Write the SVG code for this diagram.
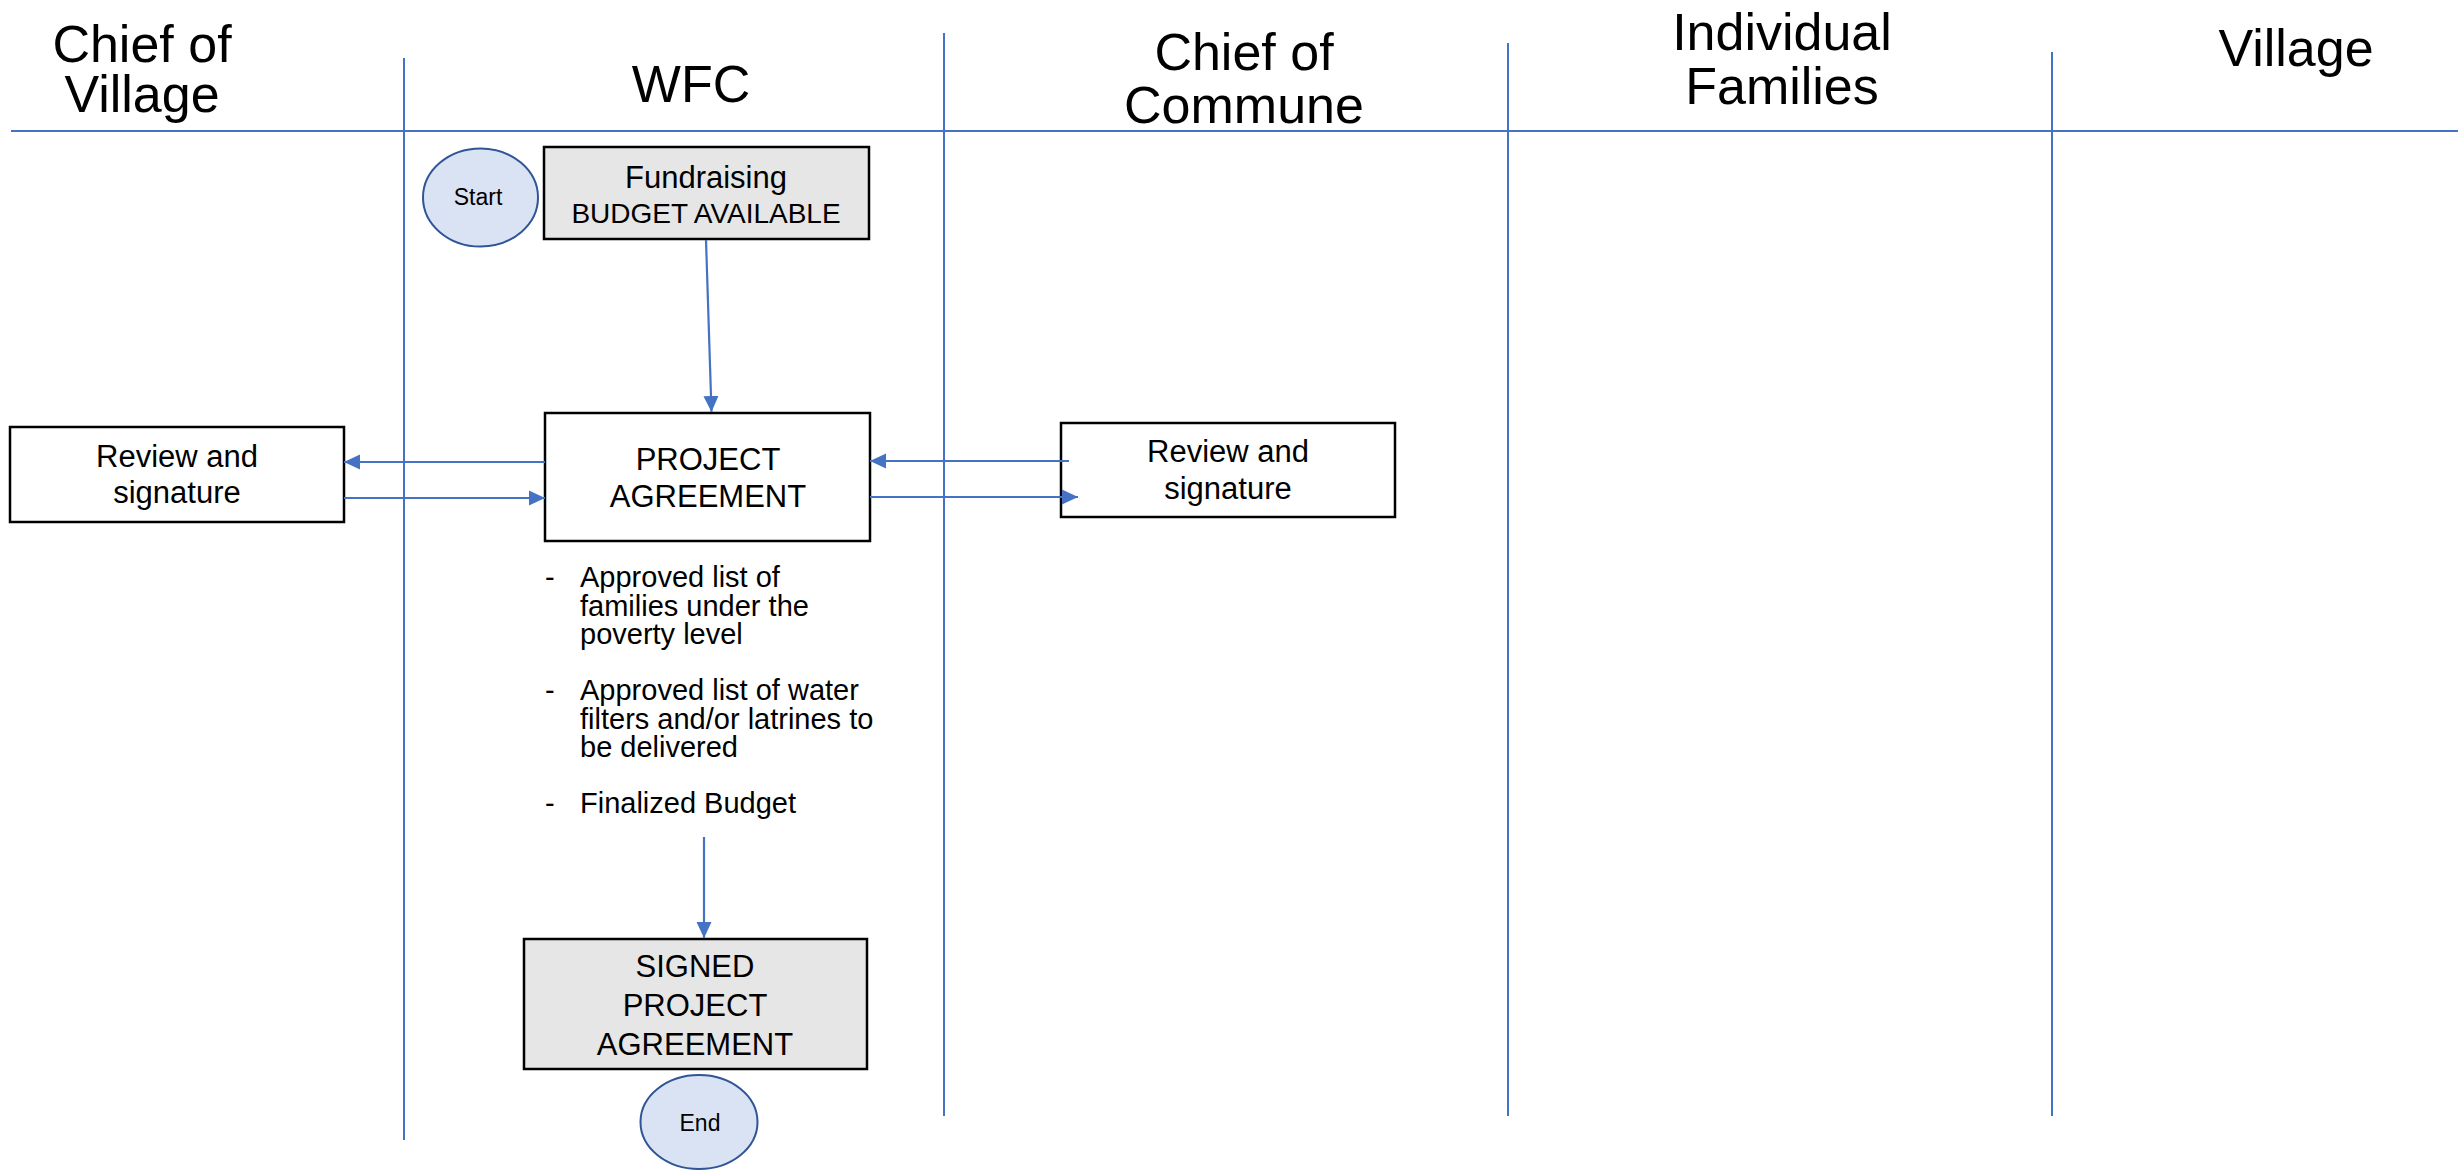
<svg xmlns="http://www.w3.org/2000/svg" width="2458" height="1171" viewBox="0 0 2458 1171">
<style>
  text { font-family: "Liberation Sans", Arial, sans-serif; fill: #000; }
  .hdr { font-size: 52px; text-anchor: middle; }
  .lane { stroke: #4472c4; stroke-width: 2; fill: none; }
  .box { fill: #ffffff; stroke: #000; stroke-width: 2.5; }
  .gbox { fill: #e6e6e6; stroke: #000; stroke-width: 2.5; }
  .term { fill: #dae3f3; stroke: #2f5597; stroke-width: 2; }
  .t31 { font-size: 31px; text-anchor: middle; }
  .t28 { font-size: 28px; text-anchor: middle; }
  .t23 { font-size: 23px; text-anchor: middle; }
  .t29 { font-size: 29px; }
  .conn { stroke: #4472c4; stroke-width: 2.2; fill: none; marker-end: url(#ah); }
</style>
<defs>
  <marker id="ah" markerUnits="userSpaceOnUse" markerWidth="17" markerHeight="17" viewBox="0 0 17 17" refX="16" refY="8.5" orient="auto">
    <path d="M0,1 L16,8.5 L0,16 z" fill="#4472c4"/>
  </marker>
</defs>
<rect width="2458" height="1171" fill="#ffffff"/>

<g id="lanes">
  <line class="lane" x1="11" y1="131" x2="2458" y2="131" stroke-width="2.5"/>
  <line class="lane" x1="404" y1="58" x2="404" y2="1140"/>
  <line class="lane" x1="944" y1="33" x2="944" y2="1116"/>
  <line class="lane" x1="1508" y1="43" x2="1508" y2="1116"/>
  <line class="lane" x1="2052" y1="52" x2="2052" y2="1116"/>
</g>

<g id="headers">
  <text class="hdr" x="142" y="62">Chief of</text>
  <text class="hdr" x="142" y="112">Village</text>
  <text class="hdr" x="691" y="102">WFC</text>
  <text class="hdr" x="1244" y="70">Chief of</text>
  <text class="hdr" x="1244" y="123">Commune</text>
  <text class="hdr" x="1782" y="50">Individual</text>
  <text class="hdr" x="1782" y="104">Families</text>
  <text class="hdr" x="2296" y="66">Village</text>
</g>

<g id="start">
  <ellipse class="term" cx="480.5" cy="197.5" rx="57.5" ry="49"/>
  <text class="t23" x="478" y="205">Start</text>
</g>

<g id="fundraising">
  <rect class="gbox" x="544" y="147" width="325" height="92"/>
  <text class="t31" x="706" y="188">Fundraising</text>
  <text class="t28" x="706" y="223">BUDGET AVAILABLE</text>
</g>

<g id="project-agreement">
  <rect class="box" x="545" y="413" width="325" height="128"/>
  <text class="t31" x="708" y="470">PROJECT</text>
  <text class="t31" x="708" y="507">AGREEMENT</text>
</g>

<g id="review-village">
  <rect class="box" x="10" y="427" width="334" height="95"/>
  <text class="t31" x="177" y="467">Review and</text>
  <text class="t31" x="177" y="503">signature</text>
</g>

<g id="review-commune">
  <rect class="box" x="1061" y="423" width="334" height="94"/>
  <text class="t31" x="1228" y="462">Review and</text>
  <text class="t31" x="1228" y="499">signature</text>
</g>

<g id="deliverables">
  <text class="t29" x="545" y="587">-</text>
  <text class="t29" x="580" y="587">Approved list of</text>
  <text class="t29" x="580" y="616">families under the</text>
  <text class="t29" x="580" y="644">poverty level</text>
  <text class="t29" x="545" y="700">-</text>
  <text class="t29" x="580" y="700">Approved list of water</text>
  <text class="t29" x="580" y="729">filters and/or latrines to</text>
  <text class="t29" x="580" y="757">be delivered</text>
  <text class="t29" x="545" y="813">-</text>
  <text class="t29" x="580" y="813">Finalized Budget</text>
</g>

<g id="signed-agreement">
  <rect class="gbox" x="524" y="939" width="343" height="130"/>
  <text class="t31" x="695" y="977">SIGNED</text>
  <text class="t31" x="695" y="1016">PROJECT</text>
  <text class="t31" x="695" y="1055">AGREEMENT</text>
</g>

<g id="end">
  <ellipse class="term" cx="699" cy="1122" rx="58.5" ry="47"/>
  <text class="t23" x="700" y="1131">End</text>
</g>

<g id="connectors">
  <line class="conn" x1="706" y1="240" x2="711.5" y2="412"/>
  <line class="conn" x1="545" y1="462" x2="344" y2="462"/>
  <line class="conn" x1="344" y1="498" x2="545" y2="498"/>
  <line class="conn" x1="1069" y1="461" x2="870" y2="461"/>
  <line class="conn" x1="870" y1="497" x2="1078" y2="497"/>
  <line class="conn" x1="704" y1="837" x2="704" y2="938"/>
</g>
</svg>
